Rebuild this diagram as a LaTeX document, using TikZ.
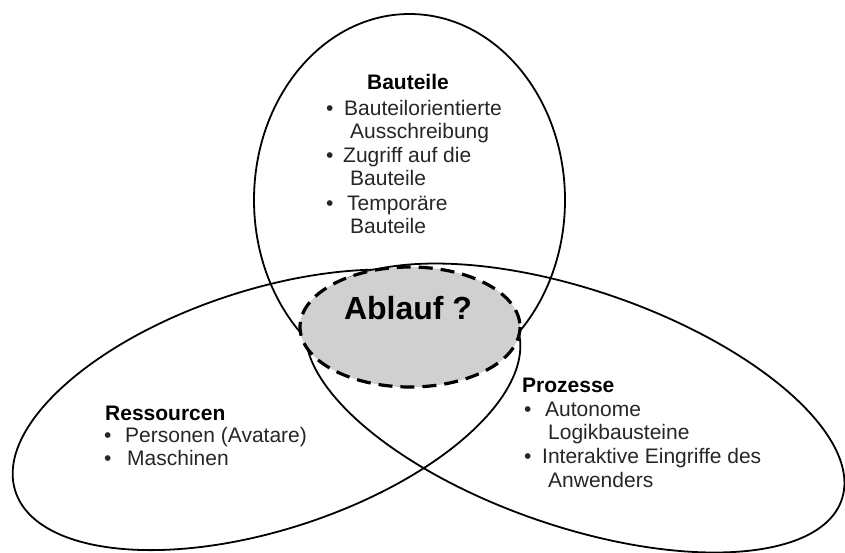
\documentclass[tikz,border=0pt]{standalone}
\usepackage{fontspec}
\setmainfont{Liberation Sans}
\definecolor{coregray}{RGB}{208,208,208}
\definecolor{textgray}{RGB}{38,38,38}
\begin{document}
\begin{tikzpicture}[x=1pt,y=-1pt,
  outline/.style={draw=black, line width=1.8pt},
  core/.style={draw=black, fill=coregray, line width=3.2pt, dash pattern=on 14pt off 8pt},
  head/.style={font=\fontsize{21}{23.5}\selectfont\bfseries, inner sep=0pt, text=black},
  entry/.style={font=\fontsize{21}{23.5}\selectfont, inner sep=0pt, anchor=base west, text=textgray},
  dot/.style={font=\fontsize{21}{23.5}\selectfont, inner sep=0pt, anchor=base west, text=textgray},
  title/.style={font=\fontsize{32}{36}\selectfont\bfseries, inner sep=0pt, anchor=base, text=black},
]
\useasboundingbox (0,0) rectangle (845,552);
\clip (0,0) rectangle (845,552);

% centres of the four ellipses
\coordinate (cRes) at (266.5,409.8);
\coordinate (cPro) at (575,408);
\coordinate (cBau) at (409.5,200);
\coordinate (cAbl) at (410,327);

% the three overlapping sets
\draw[outline, rotate around={18:(cRes)}] (cRes) ellipse [x radius=264, y radius=120];
\draw[outline, rotate around={-19:(cPro)}] (cPro) ellipse [x radius=282, y radius=118];
\draw[outline] (cBau) ellipse [x radius=155.5, y radius=186];

% common core
\draw[core] (cAbl) ellipse [x radius=110, y radius=60];
\node[title] (ablauf) at (408,319) {Ablauf ?};

% Bauteile
\node[head, anchor=base] (bauHead) at (408,89) {Bauteile};
\node[dot] (bauD1) at (326,115) {•};
\node[entry] (bau1a) at (344,115) {Bauteilorientierte};
\node[entry] (bau1b) at (350,138) {Ausschreibung};
\node[dot] (bauD2) at (326,162) {•};
\node[entry] (bau2a) at (343,162) {Zugriff auf die};
\node[entry] (bau2b) at (350,185) {Bauteile};
\node[dot] (bauD3) at (326,210) {•};
\node[entry] (bau3a) at (347,210) {Temporäre};
\node[entry] (bau3b) at (350,233) {Bauteile};

% Ressourcen
\node[head, anchor=base west] (resHead) at (105,420) {Ressourcen};
\node[dot] (resD1) at (104,442) {•};
\node[entry] (res1) at (125,442) {Personen (Avatare)};
\node[dot] (resD2) at (104,465) {•};
\node[entry] (res2) at (127,465) {Maschinen};

% Prozesse
\node[head, anchor=base west] (proHead) at (522,392) {Prozesse};
\node[dot] (proD1) at (524,416) {•};
\node[entry] (pro1a) at (545,416) {Autonome};
\node[entry] (pro1b) at (548,439) {Logikbausteine};
\node[dot] (proD2) at (524,463) {•};
\node[entry] (pro2a) at (542,463) {Interaktive Eingriffe des};
\node[entry] (pro2b) at (548,487) {Anwenders};
\end{tikzpicture}
\end{document}
